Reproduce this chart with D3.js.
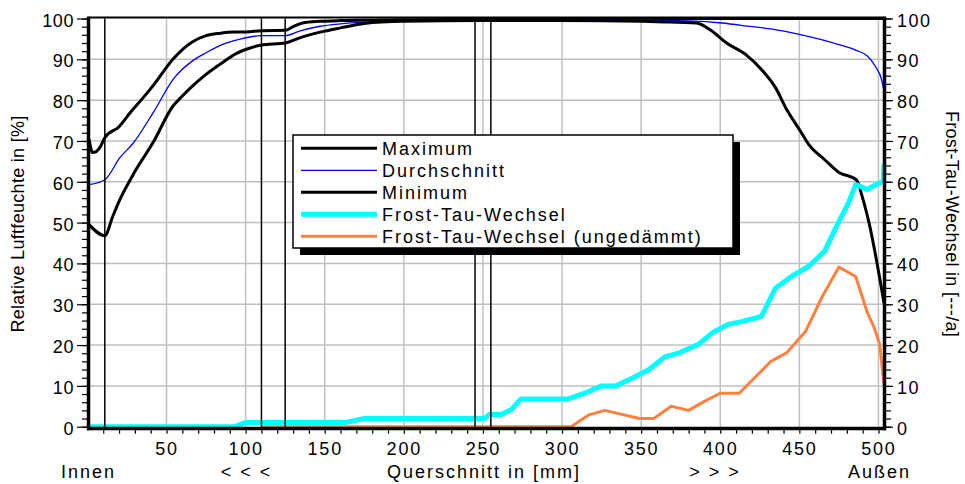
<!DOCTYPE html>
<html><head><meta charset="utf-8">
<script src="https://cdn.jsdelivr.net/npm/d3@7"></script>
<style>
body{margin:0;background:#fff}
svg text{font-family:"Liberation Sans",Arial,Helvetica,sans-serif;fill:#000}
</style>
</head><body>
<svg id="chart" width="965" height="484"></svg>
<script>
// ---- data ----
const maxPos = [1, 2, 3, 5, 8, 11, 20, 27, 35, 42, 48, 54, 60, 66, 75, 84, 92, 100, 110, 125, 130, 136, 147, 160, 175, 200, 250, 300, 350, 400, 450, 503.5];
const maxRH  = [70.5, 68.5, 67.2, 67.3, 68.5, 70.8, 73.5, 76.9, 80.5, 83.8, 87, 90, 92.4, 94.2, 95.8, 96.4, 96.7, 96.7, 97, 97.1, 98, 98.9, 99.3, 99.5, 99.6, 99.7, 99.8, 99.9, 100, 100, 100, 100];

const avgPos = [1, 11, 20.5, 29, 41.5, 55, 66, 75, 85, 96, 110, 125, 134, 147, 160, 175, 200, 250, 300, 350, 380, 401, 420, 433, 450, 475, 486, 493, 498, 502, 503.5];
const avgRH  = [59.3, 60.5, 65.9, 69.5, 76.9, 85.5, 89.5, 91.6, 93.6, 94.9, 95.8, 95.8, 96.9, 98.1, 98.7, 99.1, 99.4, 99.5, 99.6, 99.6, 99.4, 98.9, 98, 97.4, 96.1, 93.6, 92.2, 90.8, 88.3, 85, 82.2];

const minPos = [1, 11, 16, 20.5, 30, 41.5, 54, 60, 66, 75, 85, 94, 100, 110, 125, 136, 150, 160, 175, 200, 250, 300, 350, 360, 385, 394, 404, 416, 427, 435, 442, 450, 456, 466, 475, 486, 490, 494, 503.5];
const minRH  = [49.5, 46.8, 51.5, 55.6, 62.5, 69.6, 78.5, 81, 83.3, 86.3, 89.1, 91.4, 92.4, 93.5, 94, 95.5, 96.9, 97.7, 98.8, 99.3, 99.5, 99.5, 99.3, 99.2, 98.9, 97.1, 94, 91.2, 87.1, 83, 77.7, 72.8, 69.1, 65.4, 62.3, 60.5, 56, 50, 30.3];

const ftwPos = [1, 93, 100, 163, 175, 251, 254, 261.5, 268, 274, 304, 315, 325, 334, 345, 355, 365, 374, 386, 395, 404.5, 414, 426, 435, 445, 456, 466, 473, 481, 485.6, 493, 500.3, 503, 503.5];
const ftwVal = [0, 0, 1, 1, 2, 2, 3, 3, 4.2, 6.8, 6.8, 8.3, 10, 10, 12, 14, 17.1, 18.1, 20.1, 23, 25, 25.8, 27, 34, 36.8, 39.3, 43, 48.7, 54.8, 59.3, 58.1, 59.7, 60, 64.5];

const ftwUPos = [110, 305.7, 317, 327, 349, 358, 369, 380, 390, 400, 412, 422.5, 432, 442, 454, 464.5, 475, 485.6, 493, 497, 500.8, 503.5];
const ftwUVal = [0, 0, 2.9, 4, 2, 2, 5, 4, 6.2, 8.2, 8.2, 12.3, 16, 18.1, 23.4, 31.9, 39.1, 36.8, 27.9, 24.6, 20.1, 10.3];

const layerBounds = [11, 110, 125, 245, 255];
const xTickVals = [50, 100, 150, 200, 250, 300, 350, 400, 450, 500];
const xMinorVals = d3.range(10, 501, 10);
const yTickVals = d3.range(0, 101, 10);
const yMinorVals = d3.range(0, 101, 2);
const xSideLabels = ["Innen", "< < <", "Querschnitt in [mm]", "> > >", "Außen"];
const xSidePos = [0, 100, 250, 396, 500];
const seriesNames = ["Maximum", "Durchschnitt", "Minimum", "Frost-Tau-Wechsel", "Frost-Tau-Wechsel (ungedämmt)"];
const yTitleLeft = "Relative Luftfeuchte in [%]";
const yTitleRight = "Frost-Tau-Wechsel in [---/a]";

// ---- chart ----
const svg = d3.select("#chart");
svg.append("rect").attr("width", 965).attr("height", 484).attr("fill", "#fff");

const L = 89, R = 884, T = 18.5, B = 426.7;
const x = d3.scaleLinear().domain([1, 503.5]).range([L, R]);
const y = d3.scaleLinear().domain([0, 100]).range([B, T]);

// grid
const grid = svg.append("g").attr("stroke", "#c0c0c0").attr("stroke-width", 1.5);
grid.selectAll("line.h").data(yTickVals.filter(v => v > 0 && v < 100)).join("line")
  .attr("x1", L).attr("x2", R).attr("y1", d => y(d)).attr("y2", d => y(d));
grid.selectAll("line.v").data(xTickVals).join("line")
  .attr("x1", d => x(d)).attr("x2", d => x(d)).attr("y1", T).attr("y2", B);

// axes ticks
function styleAxis(g) {
  g.select(".domain").remove();
  g.selectAll(".tick line").attr("stroke", "#000").attr("stroke-width", 1.2);
  g.selectAll(".tick text").attr("font-size", 18).attr("font-family", "Liberation Sans, Arial, sans-serif");
}
svg.append("g").attr("transform", `translate(${L - 1},0)`)
  .call(d3.axisLeft(y).tickValues(yMinorVals).tickSize(6).tickFormat(""))
  .call(styleAxis);
svg.append("g").attr("transform", `translate(${L - 1},0)`)
  .call(d3.axisLeft(y).tickValues(yTickVals).tickSize(11).tickPadding(3))
  .call(styleAxis)
  .call(g => g.selectAll(".tick text").attr("dy", "0.42em").attr("letter-spacing", 0.6));

svg.append("g").attr("transform", `translate(${R + 2},0)`)
  .call(d3.axisRight(y).tickValues(yMinorVals).tickSize(5).tickFormat(""))
  .call(styleAxis);
svg.append("g").attr("transform", `translate(${R + 2},0)`)
  .call(d3.axisRight(y).tickValues(yTickVals).tickSize(7).tickPadding(4))
  .call(styleAxis)
  .call(g => g.selectAll(".tick text").attr("dy", "0.42em").attr("letter-spacing", 1.5));

svg.append("g").attr("transform", `translate(0,${B + 2})`)
  .call(d3.axisBottom(x).tickValues(xMinorVals).tickSize(5).tickFormat(""))
  .call(styleAxis);
svg.append("g").attr("transform", `translate(0,${B + 2})`)
  .call(d3.axisBottom(x).tickValues(xTickVals).tickSize(0).tickPadding(14))
  .call(styleAxis)
  .call(g => g.selectAll(".tick text").attr("letter-spacing", 1.8));

// side labels below
svg.append("g").selectAll("text").data(xSideLabels).join("text")
  .attr("x", (d, i) => x(xSidePos[i]) + 1).attr("y", 478)
  .attr("text-anchor", "middle").attr("font-size", 18).attr("letter-spacing", 2)
  .text(d => d);

// axis titles
svg.append("text").attr("transform", "translate(24,224) rotate(-90)")
  .attr("text-anchor", "middle").attr("font-size", 18).attr("letter-spacing", 0.3).text(yTitleLeft);
svg.append("text").attr("transform", "translate(946,224) rotate(90)")
  .attr("text-anchor", "middle").attr("font-size", 18).attr("letter-spacing", 0.3).text(yTitleRight);

// series
const lineMono = d3.line().x(d => x(d[0])).y(d => y(d[1])).curve(d3.curveMonotoneX);
const lineLin = d3.line().x(d => x(d[0])).y(d => y(d[1]));
const zip = (a, b) => a.map((v, i) => [v, b[i]]);
const series = [
  { name: seriesNames[0], data: zip(maxPos, maxRH), color: "#000", w: 3, gen: lineMono },
  { name: seriesNames[1], data: zip(avgPos, avgRH), color: "#0000ff", w: 1.3, gen: lineMono },
  { name: seriesNames[2], data: zip(minPos, minRH), color: "#000", w: 3, gen: lineMono },
  { name: seriesNames[3], data: zip(ftwPos, ftwVal), color: "#00ffff", w: 5, gen: lineLin },
  { name: seriesNames[4], data: zip(ftwUPos, ftwUVal), color: "#ff8040", w: 3, gen: lineLin }
];
const plot = svg.append("g");
plot.selectAll("path").data(series).join("path")
  .attr("d", d => d.gen(d.data)).attr("fill", "none")
  .attr("stroke", d => d.color).attr("stroke-width", d => d.w)
  .attr("stroke-linejoin", "round");

// layer boundaries
svg.append("g").selectAll("line").data(layerBounds).join("line")
  .attr("x1", d => x(d)).attr("x2", d => x(d)).attr("y1", T).attr("y2", B)
  .attr("stroke", "#000").attr("stroke-width", 1.5);

// frame
const frame = svg.append("g").attr("stroke", "#000");
frame.append("line").attr("x1", L).attr("x2", R).attr("y1", T - 1).attr("y2", T - 1).attr("stroke-width", 2);
frame.append("line").attr("x1", L - 0.5).attr("x2", L - 0.5).attr("y1", T - 2).attr("y2", B + 3.5).attr("stroke-width", 3.5);
frame.append("line").attr("x1", R + 0.5).attr("x2", R + 0.5).attr("y1", T - 2).attr("y2", B + 3.5).attr("stroke-width", 3.5);
frame.append("line").attr("x1", L - 2).attr("x2", R + 2).attr("y1", B + 1.8).attr("y2", B + 1.8).attr("stroke-width", 3.5);

// legend
const lg = svg.append("g");
const lx = 293, ly = 135, lw = 440, lh = 113;
lg.append("rect").attr("x", lx + 7).attr("y", ly + 7).attr("width", lw).attr("height", lh).attr("fill", "#000");
lg.append("rect").attr("x", lx).attr("y", ly).attr("width", lw).attr("height", lh)
  .attr("fill", "#fff").attr("stroke", "#000").attr("stroke-width", 1.5);
const rows = lg.selectAll("g.row").data(series).join("g")
  .attr("transform", (d, i) => `translate(0,${148.3 + i * 22})`);
rows.append("line").attr("x1", 301).attr("x2", 377).attr("y1", 0).attr("y2", 0)
  .attr("stroke", d => d.color).attr("stroke-width", d => d.w);
rows.append("text").attr("x", 382).attr("y", 6.6).attr("font-size", 18).attr("letter-spacing", 2)
  .text(d => d.name);
</script>
</body></html>
